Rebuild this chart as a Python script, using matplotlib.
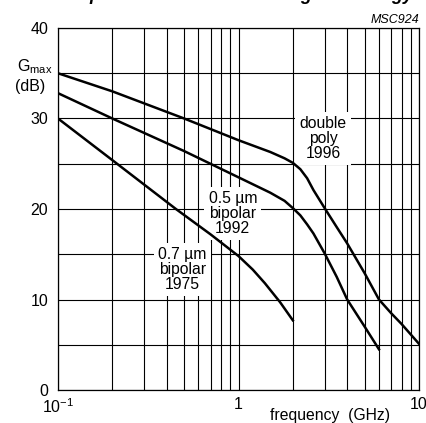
import matplotlib
matplotlib.use("Agg")
import matplotlib.pyplot as plt
from matplotlib.ticker import FixedLocator, NullFormatter

plt.rcParams['font.family'] = ['Liberation Sans', 'DejaVu Sans']
plt.rcParams['mathtext.fontset'] = 'custom'
plt.rcParams['mathtext.rm'] = 'Liberation Sans'
plt.rcParams['mathtext.it'] = 'Liberation Sans:italic'

# данные
freq_1975 = [0.1, 0.2, 0.3, 0.45, 0.7, 1.0, 1.2, 1.4, 1.7, 2.0]
g_1975 = [30, 25.4, 22.7, 20, 17.2, 14.8, 13.3, 11.8, 9.7, 7.7]

freq_1992 = [0.1, 0.2, 0.5, 1.0, 1.5, 1.8, 2.0, 2.2, 2.4, 2.6, 3.0, 3.5, 4.0, 5.0, 6.0]
g_1992 = [32.8, 30, 26.4, 23.5, 21.8, 20.9, 20.1, 19.3, 18.3, 17.3, 15.1, 12.5, 10, 7.0, 4.5]

freq_1996 = [0.1, 0.2, 0.5, 1.0, 1.5, 1.8, 2.0, 2.2, 2.4, 2.6, 3.0, 3.5, 4.0, 5.0, 6.0, 7.0, 8.0, 10.0]
g_1996 = [35, 33, 30, 27.6, 26.3, 25.6, 25.1, 24.4, 23.4, 22.1, 20.1, 18.0, 16.2, 12.9, 10, 8.5, 7.3, 5.1]

labels = ['0.7 µm\nbipolar\n1975', '0.5 µm\nbipolar\n1992', 'double\npoly\n1996']
label_pos = [(0.49, 13.3), (0.93, 19.5), (2.94, 27.8)]

y_major = [0, 10, 20, 30, 40]
y_grid = [5, 15, 25, 35]
x_major = [0.1, 1, 10]
x_minor = [m * d for d in (0.1, 1) for m in range(2, 10)]

fig = plt.figure(figsize=(4.27, 4.23), dpi=100)
ax = fig.add_axes([58 / 427, 1 - 390 / 423, 361 / 427, 362 / 423])

ax.set_xscale('log')
ax.set_xlim(0.1, 10)
ax.set_ylim(0, 40)

ax.xaxis.set_major_locator(FixedLocator(x_major))
ax.xaxis.set_minor_locator(FixedLocator(x_minor))
ax.xaxis.set_minor_formatter(NullFormatter())
ax.set_xticklabels(['$10^{-1}$', '1', '10'])
ax.yaxis.set_major_locator(FixedLocator(y_major))
ax.yaxis.set_minor_locator(FixedLocator(y_grid))
ax.grid(True, which='both', color='black', linewidth=0.8)
ax.tick_params(which='both', length=0, labelsize=11.5)
ax.tick_params(axis='y', pad=7)
ax.tick_params(axis='x', pad=5)
for s in ax.spines.values():
    s.set_linewidth(0.9)
    s.set_zorder(6)

# подписи кривых (белый фон прерывает сетку)
for txt, (x, y) in zip(labels, label_pos):
    ax.text(x, y, txt, ha='center', va='center', fontsize=11.3, linespacing=1.0,
            bbox=dict(facecolor='white', edgecolor='none', pad=3), zorder=3)

# кривые поверх подписей
for f, g in ((freq_1975, g_1975), (freq_1992, g_1992), (freq_1996, g_1996)):
    ax.plot(f, g, color='black', linewidth=1.8, zorder=5)

fig.text(53 / 427, 1 - 67 / 423, '$\\mathregular{G_{max}}$', ha='right', va='center', fontsize=11.5)
fig.text(30 / 427, 1 - 87 / 423, '(dB)', ha='center', va='center', fontsize=11.5)
fig.text(330 / 427, 1 - 415 / 423, 'frequency  (GHz)', ha='center', va='center', fontsize=11.3)
fig.text(419 / 427, 1 - 20 / 423, 'MSC924', ha='right', va='center', fontsize=9, style='italic')

# заголовок, обрезанный сверху (видны только нижние выносные элементы)
fig.text(413 / 427, 1 + 0.5 / 423, 'Improvement of Gmax using technology', ha='right',
         va='baseline', fontsize=13, fontweight='bold', style='italic')

fig.savefig('out.png', dpi=100)
